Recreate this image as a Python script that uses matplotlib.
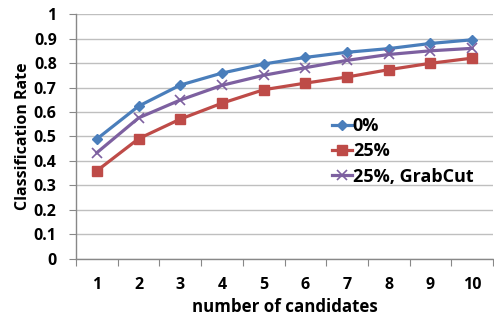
import matplotlib
matplotlib.use("Agg")
import matplotlib.pyplot as plt
import numpy as np

candidates = [1, 2, 3, 4, 5, 6, 7, 8, 9, 10]
rate_0 = [0.49, 0.624, 0.71, 0.759, 0.796, 0.823, 0.844, 0.859, 0.88, 0.895]
rate_25 = [0.36, 0.491, 0.571, 0.636, 0.691, 0.718, 0.743, 0.773, 0.799, 0.82]
rate_25_grabcut = [0.434, 0.576, 0.649, 0.709, 0.75, 0.781, 0.811, 0.835, 0.85, 0.86]
series_labels = ["0%", "25%", "25%, GrabCut"]
yticks = [0, 0.1, 0.2, 0.3, 0.4, 0.5, 0.6, 0.7, 0.8, 0.9, 1]
ytick_labels = ["0", "0.1", "0.2", "0.3", "0.4", "0.5", "0.6", "0.7", "0.8", "0.9", "1"]

plt.rcParams['font.family'] = ['Open Sans', 'DejaVu Sans']
plt.rcParams['font.weight'] = 'bold'

fig = plt.figure(figsize=(4.94, 3.2), dpi=100)
ax = fig.add_axes([0.154, 0.191, 0.844, 0.765])

ax.plot(candidates, rate_0, color='#4A7EBB', lw=2.3, marker='D', ms=5.5, label=series_labels[0])
ax.plot(candidates, rate_25, color='#BE4B48', lw=2.3, marker='s', ms=6.5, label=series_labels[1])
ax.plot(candidates, rate_25_grabcut, color='#7D60A0', lw=2.3, marker='x', ms=6.5, mew=1.2, label=series_labels[2])

ax.set_xlim(0.5, 10.5)
ax.set_ylim(0, 1)
ax.set_yticks(yticks)
ax.set_yticklabels(ytick_labels)
ax.yaxis.grid(True, color='#BFBFBF', lw=1.0)
ax.set_axisbelow(True)

ax.set_xticks(np.arange(0.5, 11.0, 1.0))
ax.set_xticklabels([])
ax.set_xticks(candidates, minor=True)
ax.set_xticklabels([str(c) for c in candidates], minor=True)
ax.tick_params(axis='x', which='major', length=5, color='#888888', direction='out')
ax.tick_params(axis='x', which='minor', length=0, pad=13, labelsize=11.5)
ax.tick_params(axis='y', length=5, color='#888888', direction='out', labelsize=11.5, pad=9)

for s in ['top', 'right']:
    ax.spines[s].set_visible(False)
for s in ['left', 'bottom']:
    ax.spines[s].set_color('#888888')
    ax.spines[s].set_linewidth(1.0)

ax.set_xlabel("number of candidates", fontsize=12.2, fontweight='bold', labelpad=4)
ax.set_ylabel("Classification Rate", fontsize=11.5, fontweight='bold', labelpad=2)

leg = ax.legend(loc='upper left', bbox_to_anchor=(0.575, 0.645), frameon=False,
                handlelength=1.1, handletextpad=0.05, labelspacing=0.4,
                prop={'size': 13, 'weight': 'bold'})

fig.savefig("out.png", dpi=100)
